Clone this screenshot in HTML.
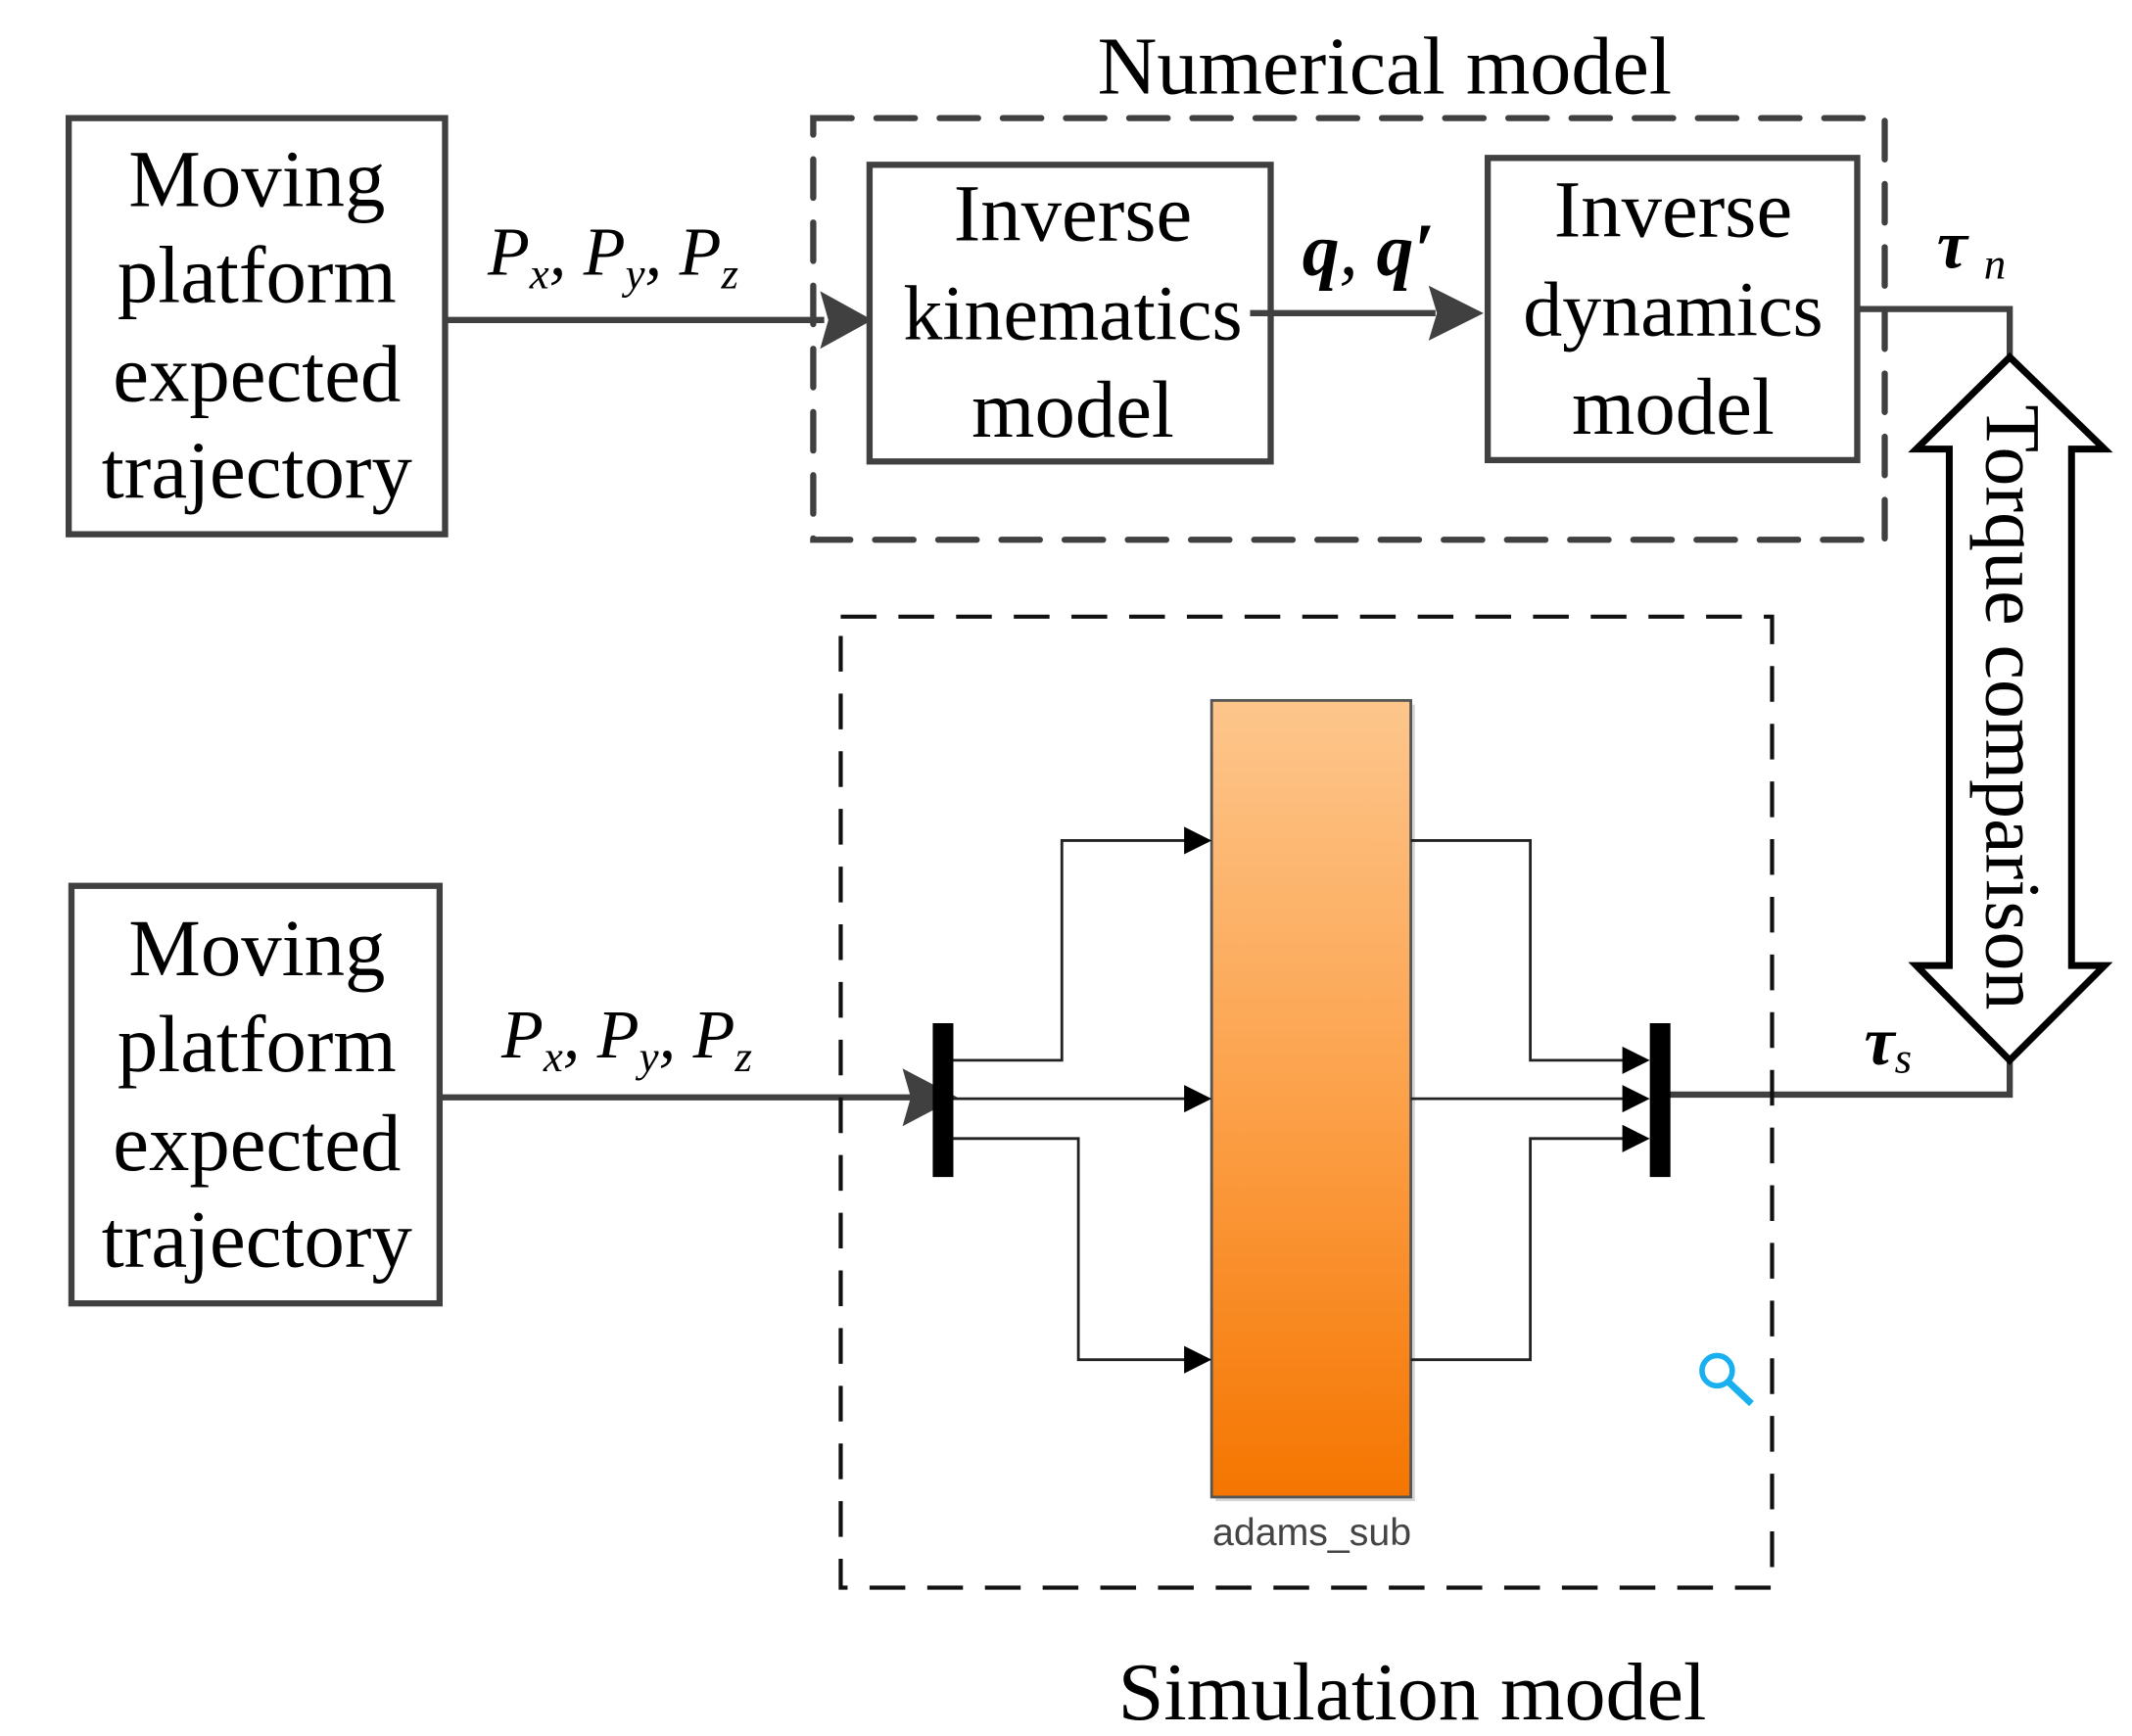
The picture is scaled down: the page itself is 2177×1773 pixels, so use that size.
<!DOCTYPE html>
<html><head><meta charset="utf-8"><style>html,body{margin:0;padding:0;background:#fff}svg{display:block}</style></head>
<body>
<svg width="2177" height="1773" viewBox="0 0 1552 1264" xmlns="http://www.w3.org/2000/svg" font-family="Liberation Serif, serif">
<defs>
<linearGradient id="og" x1="0" y1="0" x2="0" y2="1"><stop offset="0" stop-color="#fdc68c"/><stop offset="0.5" stop-color="#fca14a"/><stop offset="1" stop-color="#f57500"/></linearGradient>
</defs>
<g fill="none" stroke="#404040" stroke-width="4.5">
<rect x="50" y="86" width="274" height="303"/>
<rect x="52" y="645" width="268" height="304"/>
<rect x="633" y="120" width="292" height="216"/>
<rect x="1083" y="115" width="269" height="220"/>
<rect x="592" y="86" width="780" height="307" stroke-dasharray="28,18" stroke-linecap="round"/>
<line x1="324" y1="233" x2="600" y2="233"/>
<line x1="910" y1="228" x2="1045" y2="228"/>
<polyline points="1352,225 1463,225 1463,260"/>
<polyline points="1215,797 1463,797 1463,771"/>
<line x1="320" y1="799" x2="665" y2="799"/>
</g>
<g fill="#404040">
<polygon points="635,233 597,212 603,233 597,254"/>
<polygon points="1080,228 1040,208 1046,228 1040,248"/>
<polygon points="697,799 657,778 663,799 657,820"/>
</g>
<rect x="612" y="449" width="678" height="707" fill="none" stroke="#111" stroke-width="3" stroke-dasharray="26,16"/>
<polygon points="1463,260 1395,327 1419,327 1419,703 1395,703 1463,772 1532,703 1508,703 1508,327 1532,327" fill="#fff" stroke="#000" stroke-width="5" stroke-linejoin="miter"/>
<text transform="translate(1446,515) rotate(90)" text-anchor="middle" font-size="57" fill="#000">Torque comparison</text>
<rect x="885" y="513" width="145" height="580" fill="#aaa" opacity="0.5"/>
<rect x="882" y="510" width="145" height="580" fill="url(#og)" stroke="#555" stroke-width="2"/>
<text x="955" y="1125" text-anchor="middle" font-family="Liberation Sans, sans-serif" font-size="28" fill="#444">adams_sub</text>
<rect x="679" y="745" width="15" height="112" fill="#000"/>
<rect x="1201" y="745" width="15" height="112" fill="#000"/>
<g fill="none" stroke="#222" stroke-width="2">
<polyline points="694,772 773,772 773,612 865,612"/>
<line x1="694" y1="800" x2="865" y2="800"/>
<polyline points="694,829 785,829 785,990 865,990"/>
<polyline points="1027,612 1114,612 1114,772 1185,772"/>
<line x1="1027" y1="800" x2="1185" y2="800"/>
<polyline points="1027,990 1114,990 1114,829 1185,829"/>
</g>
<g fill="#000">
<polygon points="882,612 862,602 862,622"/><polygon points="882,800 862,790 862,810"/><polygon points="882,990 862,980 862,1000"/>
<polygon points="1201,772 1181,762 1181,782"/><polygon points="1201,800 1181,790 1181,810"/><polygon points="1201,829 1181,819 1181,839"/>
</g>
<g fill="none" stroke="#1ab0f0" stroke-width="4"><circle cx="1250" cy="998" r="11"/><line x1="1258" y1="1006" x2="1275" y2="1022" stroke-width="5"/></g>
<g font-size="59" text-anchor="middle" fill="#000">
<text x="187" y="150">Moving</text><text x="187" y="220">platform</text><text x="187" y="292">expected</text><text x="187" y="362">trajectory</text>
<text x="187" y="710">Moving</text><text x="187" y="780">platform</text><text x="187" y="852">expected</text><text x="187" y="922">trajectory</text>
<text x="781" y="175">Inverse</text><text x="781" y="247" font-size="57">kinematics</text><text x="781" y="318">model</text>
<text x="1218" y="172">Inverse</text><text x="1218" y="244" font-size="57">dynamics</text><text x="1218" y="316">model</text>
<text x="1008" y="68" font-size="60">Numerical model</text>
<text x="1028" y="1252" font-size="60">Simulation model</text>
</g>
<g font-style="italic" font-size="50" fill="#000">
<text x="355" y="200">P<tspan font-size="32" dy="10">x</tspan><tspan dy="-10">, P</tspan><tspan font-size="32" dy="10">y</tspan><tspan dy="-10">,  P</tspan><tspan font-size="32" dy="10">z</tspan></text>
<text x="365" y="770">P<tspan font-size="32" dy="10">x</tspan><tspan dy="-10">,  P</tspan><tspan font-size="32" dy="10">y</tspan><tspan dy="-10">,  P</tspan><tspan font-size="32" dy="10">z</tspan></text>
<text x="948" y="200" font-size="54" font-weight="bold">q<tspan font-weight="normal">, </tspan>q′</text>
<text x="1410" y="195" font-weight="bold">τ<tspan font-weight="normal" font-size="32" dx="12" dy="8">n</tspan></text>
<text x="1357" y="775" font-weight="bold">τ<tspan font-weight="normal" font-size="32" dy="6">s</tspan></text>
</g>
</svg>
</body></html>
